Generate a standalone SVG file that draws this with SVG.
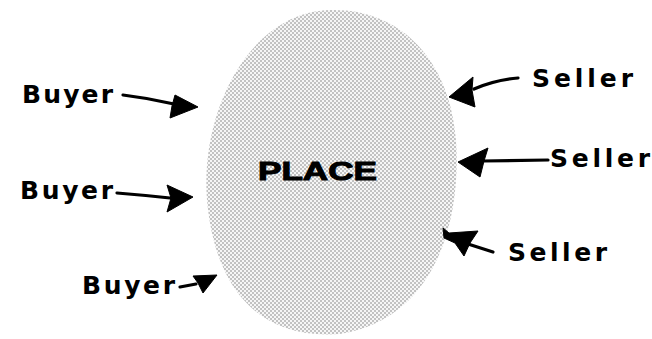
<svg xmlns="http://www.w3.org/2000/svg" width="652" height="339" viewBox="0 0 652 339">
  <style>
    .lbl { font-family: "DejaVu Sans", "Liberation Sans", sans-serif; font-weight: bold; font-size: 25px; fill: #000; }
    .place { font-family: "Liberation Sans", Arial, sans-serif; font-weight: 900; font-size: 25px; fill: #000; stroke: #000; stroke-width: 1; }
    .line { fill: none; stroke: #000; stroke-width: 3.2; stroke-linecap: round; }
    .head { fill: #000; stroke: #000; stroke-width: 1; stroke-linejoin: round; }
  </style>
  <defs>
    <pattern id="stipple" width="4" height="4" patternUnits="userSpaceOnUse">
      <rect width="4" height="4" fill="#f6f6f6"/>
      <circle cx="1" cy="1" r="0.7" fill="#666"/>
      <circle cx="3" cy="3" r="0.7" fill="#666"/>
    </pattern>
  </defs>
  <rect width="652" height="339" fill="#fff"/>

  <g id="place">
    <path d="M330 10 C400 8 450 60 456 140 C462 230 430 320 340 334 C260 340 215 290 207 200 C200 110 250 12 330 10 Z" fill="url(#stipple)"/>
    <text class="place" x="258" y="180" textLength="119" lengthAdjust="spacingAndGlyphs">PLACE</text>
  </g>

  <g id="buyer1"><text class="lbl" x="22" y="103" textLength="91" lengthAdjust="spacing">Buyer</text></g>
  <g id="buyer2"><text class="lbl" x="20" y="199" textLength="93" lengthAdjust="spacing">Buyer</text></g>
  <g id="buyer3"><text class="lbl" x="82" y="294" textLength="93" lengthAdjust="spacing">Buyer</text></g>
  <g id="seller1"><text class="lbl" x="532" y="87" textLength="101" lengthAdjust="spacing">Seller</text></g>
  <g id="seller2"><text class="lbl" x="550" y="167" textLength="100" lengthAdjust="spacing">Seller</text></g>
  <g id="seller3"><text class="lbl" x="508" y="261" textLength="99" lengthAdjust="spacing">Seller</text></g>

  <g id="connectors">
    <path class="line" d="M123 95 Q148 98 174 104"/>
    <polygon class="head" points="175,95 198,107 170,118 172,106"/>

    <path class="line" d="M117 193 Q142 195 170 198"/>
    <polygon class="head" points="167,185 193,197 167,212 171,198"/>

    <path class="line" d="M180 287 L196 284"/>
    <polygon class="head" points="193,276 217,275 203,293 198,283"/>

    <path class="line" d="M518 78 Q495 80 474 89"/>
    <polygon class="head" points="473,77 449,97 475,107 472,90"/>

    <path class="line" d="M548 160 L482 161"/>
    <polygon class="head" points="488,148 458,162 480,177 484,161"/>

    <path class="line" d="M493 252 L468 244"/>
    <polygon class="head" points="443,228 449,233 478,231 470,243 464,256 455,243 444,238"/>
  </g>
</svg>
